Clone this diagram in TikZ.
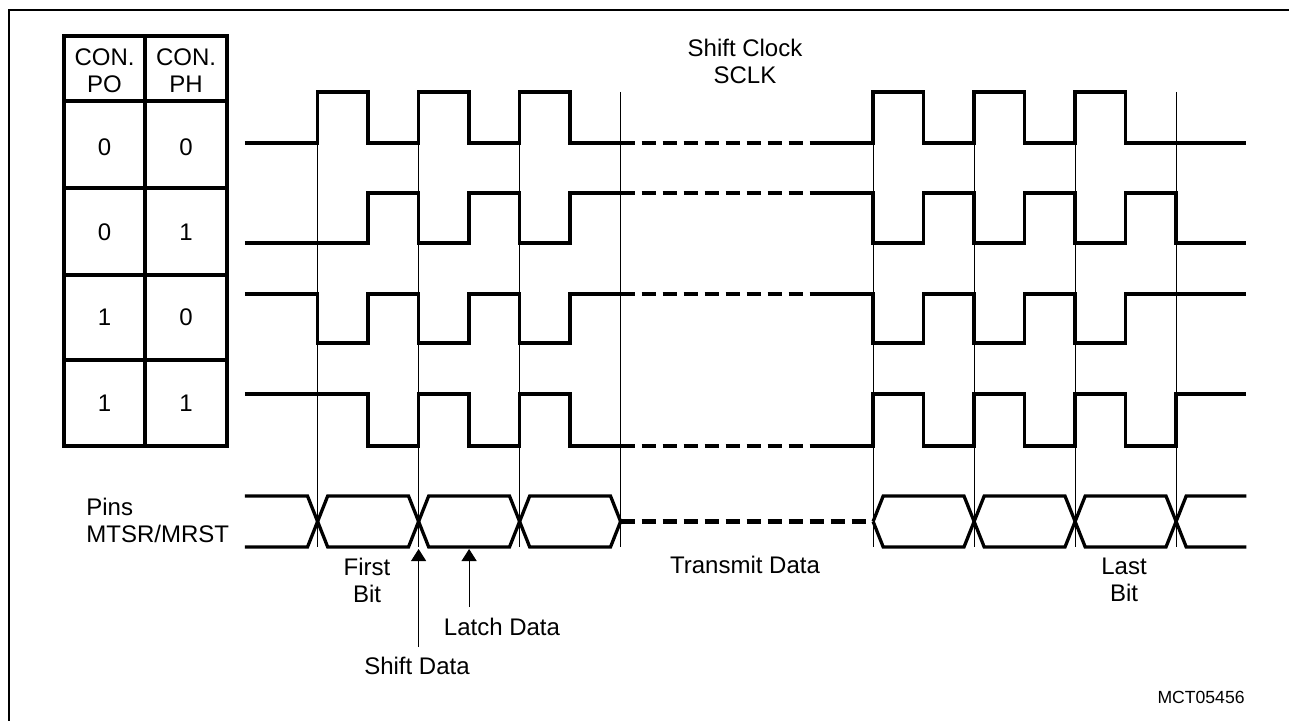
\documentclass[tikz,border=0pt]{standalone}
\usepackage{fontspec}
\setmainfont{Liberation Sans}
\usetikzlibrary{arrows.meta}

\begin{document}
\begin{tikzpicture}[
x=0.5pt, y=-0.5pt,
every node/.style={inner sep=0pt, align=center, font=\fontsize{12}{13.5}\selectfont},
wave/.style={line width=1.65pt},
gapline/.style={line width=2.2pt, dash pattern=on 7pt off 3.5pt},
edgeline/.style={line width=0.5pt},
ptr/.style={line width=0.5pt, -{Triangle[width=7.5pt,length=6pt]}}
]
\useasboundingbox (0,0) rectangle (1289,721);
\draw[line width=1pt] (9,721) -- (9,10) -- (1289,10);

% table
\draw[wave] (64,36) rectangle (227,446);
\draw[wave] (145,36) -- (145,446);
\foreach \r in {101,188,275,360} \draw[wave] (64,\r) -- (227,\r);

\node (po) at (104.5,71) {CON.\\PO};
\node (ph) at (186,71) {CON.\\PH};
\node (poa) at (104.5,147) {0};
\node (pha) at (186,147) {0};
\node (pob) at (104.5,232) {0};
\node (phb) at (186,232) {1};
\node (poc) at (104.5,317) {1};
\node (phc) at (186,317) {0};
\node (pod) at (104.5,403) {1};
\node (phd) at (186,403) {1};

% waveforms
\begin{scope}[shift={(317.6,0)}, x=25.25pt]
\foreach \k in {0,2,4,6,11,13,15,17} \draw[edgeline] (\k,92) -- (\k,547);

\draw[wave] (-1.44,143) -- (0,143) -- (0,92) -- (1,92) -- (1,143) -- (2,143) -- (2,92) -- (3,92) -- (3,143) -- (4,143) -- (4,92) -- (5,92) -- (5,143) -- (6,143);
\draw[gapline] (6,143) -- (10,143);
\draw[wave] (10,143) -- (11,143) -- (11,92) -- (12,92) -- (12,143) -- (13,143) -- (13,92) -- (14,92) -- (14,143) -- (15,143) -- (15,92) -- (16,92) -- (16,143) -- (18.39,143);

\draw[wave] (-1.44,243) -- (1,243) -- (1,193) -- (2,193) -- (2,243) -- (3,243) -- (3,193) -- (4,193) -- (4,243) -- (5,243) -- (5,193) -- (6,193);
\draw[gapline] (6,193) -- (10,193);
\draw[wave] (10,193) -- (11,193) -- (11,243) -- (12,243) -- (12,193) -- (13,193) -- (13,243) -- (14,243) -- (14,193) -- (15,193) -- (15,243) -- (16,243) -- (16,193) -- (17,193) -- (17,243) -- (18.39,243);

\draw[wave] (-1.44,294) -- (0,294) -- (0,343) -- (1,343) -- (1,294) -- (2,294) -- (2,343) -- (3,343) -- (3,294) -- (4,294) -- (4,343) -- (5,343) -- (5,294) -- (6,294);
\draw[gapline] (6,294) -- (10,294);
\draw[wave] (10,294) -- (11,294) -- (11,343) -- (12,343) -- (12,294) -- (13,294) -- (13,343) -- (14,343) -- (14,294) -- (15,294) -- (15,343) -- (16,343) -- (16,294) -- (18.39,294);

\draw[wave] (-1.44,394) -- (1,394) -- (1,446) -- (2,446) -- (2,394) -- (3,394) -- (3,446) -- (4,446) -- (4,394) -- (5,394) -- (5,446) -- (6,446);
\draw[gapline] (6,446) -- (10,446);
\draw[wave] (10,446) -- (11,446) -- (11,394) -- (12,394) -- (12,446) -- (13,446) -- (13,394) -- (14,394) -- (14,446) -- (15,446) -- (15,394) -- (16,394) -- (16,446) -- (17,446) -- (17,394) -- (18.39,394);

% data lines
\draw[wave] (-1.44,496) -- (-0.2,496) -- (0.2,547) -- (1.8,547) -- (2.2,496) -- (3.8,496) -- (4.2,547) -- (5.8,547) -- (6,521.5);
\draw[wave] (-1.44,547) -- (-0.2,547) -- (0.2,496) -- (1.8,496) -- (2.2,547) -- (3.8,547) -- (4.2,496) -- (5.8,496) -- (6,521.5);
\draw[gapline] (6,521.5) -- (11,521.5);
\draw[wave] (11,521.5) -- (11.2,496) -- (12.8,496) -- (13.2,547) -- (14.8,547) -- (15.2,496) -- (16.8,496) -- (17.2,547) -- (18.39,547);
\draw[wave] (11,521.5) -- (11.2,547) -- (12.8,547) -- (13.2,496) -- (14.8,496) -- (15.2,547) -- (16.8,547) -- (17.2,496) -- (18.39,496);

\coordinate (shifttip) at (2,549);
\coordinate (shifttail) at (2,647);
\coordinate (latchtip) at (3,549);
\coordinate (latchtail) at (3,607);
\end{scope}

\draw[ptr] (shifttail) -- (shifttip);
\draw[ptr] (latchtail) -- (latchtip);

% labels
\node (sclk) at (745,61.5) {Shift Clock\\SCLK};
\node (pins) [anchor=west, align=left] at (86,520) {Pins\\MTSR/MRST};
\node (firstbit) at (367,580) {First\\Bit};
\node (lastbit) at (1124,580) {Last\\Bit};
\node (transmit) at (745,565) {Transmit Data};
\node (latchlbl) at (502,627) {Latch Data};
\node (shiftlbl) at (417,666) {Shift Data};
\node (mct) [anchor=east, font=\fontsize{8.8}{10}\selectfont] at (1245,697) {MCT05456};

\end{tikzpicture}
\end{document}
